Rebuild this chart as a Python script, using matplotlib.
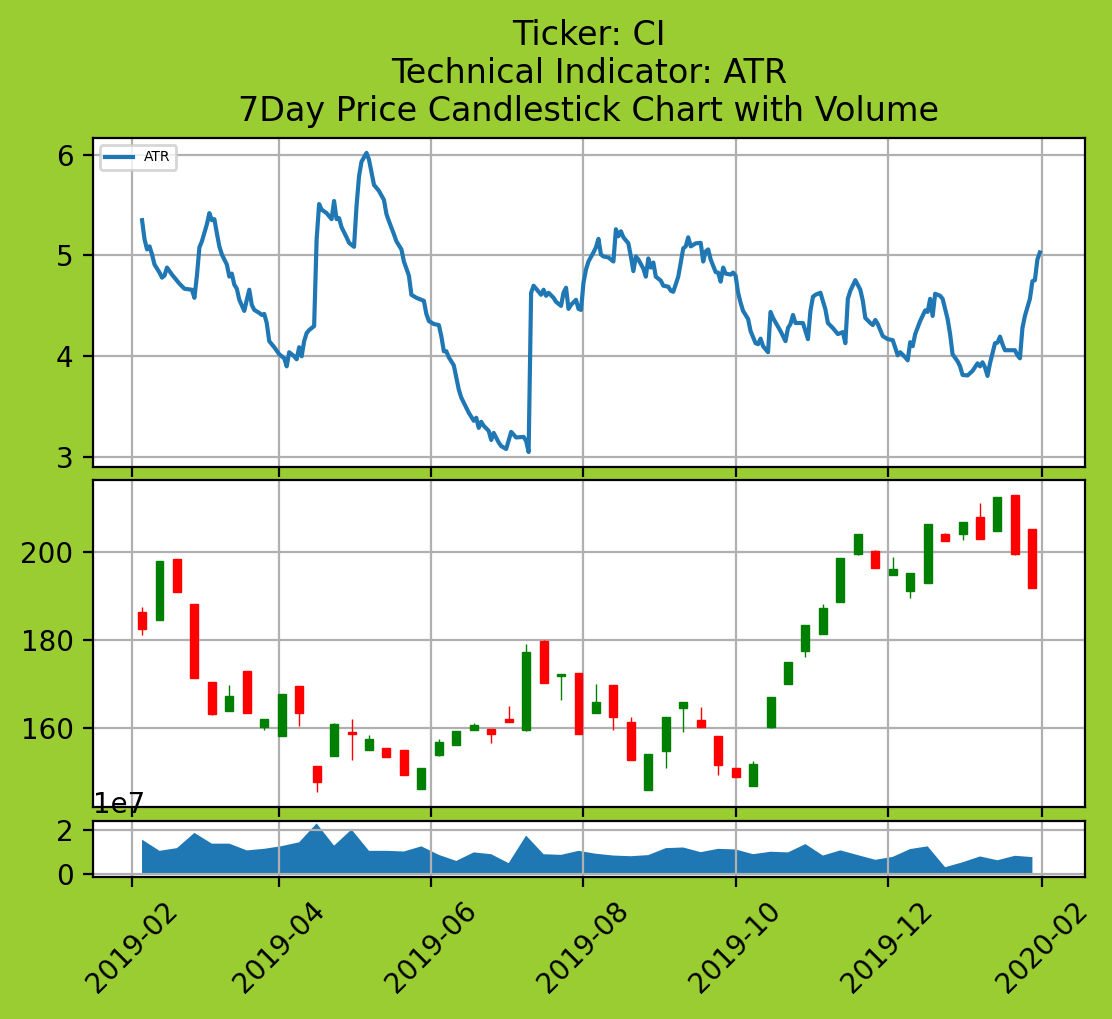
import pandas as pd
import numpy as np
import matplotlib
matplotlib.use('Agg')
import matplotlib.pyplot as plt
import matplotlib.dates as mdates


# ── Data ────────────────────────────────────────────────────────────────────

TICKER = 'CI'
INDICATOR = 'ATR'
BASE_DATE = '2019-02-01'

# ATR line: day offsets from BASE_DATE and values
atr_days = [
    4, 5, 6, 7, 8, 9, 11, 12, 13, 14, 16, 18, 19, 21, 24, 25, 26, 27, 28, 30,
    31, 32, 33, 34, 35, 36, 38, 39, 40, 41, 42, 43, 45, 46, 47, 48, 49, 51, 52, 53,
    54, 55, 57, 59, 61, 62, 63, 65, 66, 67, 68, 69, 70, 71, 73, 74, 75, 76, 78, 80,
    81, 82, 83, 84, 86, 87, 89, 90, 91, 92, 94, 95, 97, 99, 101, 102, 103, 105, 106, 108,
    109, 111, 112, 114, 117, 118, 119, 121, 123, 124, 125, 126, 127, 129, 131, 132, 133, 135, 137, 138,
    139, 140, 141, 143, 144, 145, 147, 148, 150, 152, 154, 157, 158, 159, 160, 161, 163, 164, 165, 166,
    167, 169, 170, 172, 173, 174, 175, 176, 178, 179, 180, 181, 182, 183, 185, 186, 187, 188, 189, 191,
    193, 194, 195, 196, 197, 199, 200, 201, 202, 203, 205, 206, 207, 208, 209, 210, 212, 213, 215, 216,
    217, 219, 220, 221, 222, 223, 224, 226, 228, 229, 230, 231, 232, 234, 235, 236, 237, 238, 240, 241,
    242, 243, 244, 245, 247, 248, 250, 251, 252, 253, 255, 256, 257, 260, 262, 263, 264, 265, 266, 267,
    269, 271, 272, 273, 274, 276, 278, 279, 281, 283, 285, 286, 287, 288, 290, 292, 293, 294, 296, 297,
    298, 299, 301, 303, 305, 307, 308, 310, 311, 312, 313, 314, 316, 318, 319, 320, 321, 322, 324, 325,
    327, 328, 329, 331, 332, 333, 335, 337, 339, 340, 341, 342, 343, 344, 346, 347, 348, 349, 350, 354,
    355, 356, 357, 358, 360, 361, 362, 363, 364,
]
atr_values = [
    5.35, 5.16, 5.06, 5.09, 5.01, 4.91, 4.83, 4.78, 4.80, 4.88, 4.81, 4.75, 4.72, 4.67, 4.66, 4.58, 4.80, 5.08, 5.14, 5.31,
    5.42, 5.35, 5.36, 5.22, 5.09, 5.01, 4.91, 4.79, 4.82, 4.71, 4.67, 4.56, 4.45, 4.56, 4.66, 4.51, 4.46, 4.43, 4.41, 4.42,
    4.33, 4.15, 4.09, 4.02, 3.98, 3.90, 4.04, 4.00, 3.97, 4.09, 4.00, 4.15, 4.23, 4.26, 4.30, 5.16, 5.51, 5.455, 5.42, 5.36,
    5.54, 5.36, 5.37, 5.28, 5.18, 5.125, 5.086, 5.49, 5.785, 5.93, 6.017, 5.95, 5.70, 5.64, 5.55, 5.41, 5.34, 5.21, 5.14, 5.06,
    4.94, 4.80, 4.61, 4.58, 4.55, 4.42, 4.35, 4.32, 4.31, 4.20, 4.05, 4.05, 3.99, 3.91, 3.67, 3.59, 3.54, 3.44, 3.36, 3.39,
    3.29, 3.35, 3.31, 3.26, 3.17, 3.24, 3.145, 3.11, 3.08, 3.25, 3.195, 3.20, 3.16, 3.05, 4.63, 4.70, 4.64, 4.61, 4.66, 4.60,
    4.63, 4.58, 4.54, 4.50, 4.63, 4.68, 4.47, 4.51, 4.56, 4.47, 4.46, 4.73, 4.86, 4.94, 5.03, 5.08, 5.165, 5.01, 4.99, 4.98,
    4.94, 5.26, 5.19, 5.24, 5.18, 5.12, 4.99, 4.845, 4.99, 4.96, 4.87, 4.79, 4.97, 4.88, 4.93, 4.79, 4.75, 4.70, 4.69, 4.65,
    4.64, 4.79, 4.93, 5.07, 5.09, 5.18, 5.09, 5.12, 5.125, 4.94, 5.04, 5.06, 4.96, 4.835, 4.83, 4.74, 4.88, 4.82, 4.81, 4.83,
    4.80, 4.63, 4.53, 4.45, 4.37, 4.25, 4.13, 4.12, 4.175, 4.10, 4.04, 4.44, 4.38, 4.25, 4.15, 4.28, 4.32, 4.41, 4.33, 4.33,
    4.33, 4.17, 4.45, 4.59, 4.61, 4.63, 4.465, 4.33, 4.28, 4.22, 4.24, 4.13, 4.57, 4.65, 4.755, 4.66, 4.55, 4.38, 4.33, 4.31,
    4.36, 4.32, 4.20, 4.17, 4.16, 4.01, 4.04, 3.99, 3.96, 4.14, 4.10, 4.22, 4.35, 4.455, 4.44, 4.57, 4.40, 4.62, 4.60, 4.57,
    4.37, 4.22, 4.02, 3.95, 3.90, 3.815, 3.81, 3.855, 3.93, 3.90, 3.94, 3.89, 3.805, 3.93, 4.13, 4.135, 4.195, 4.12, 4.06, 4.06,
    4.01, 3.98, 4.28, 4.40, 4.57, 4.745, 4.755, 4.96, 5.03,
]

# weekly candles
candle_start = '2019-02-05'
opens = [
    186.4, 184.5, 198.35, 188.2, 170.3, 163.8, 173.0, 160.2, 158.2, 169.4,
    151.2, 153.5, 159.0, 154.9, 155.4, 154.8, 146.1, 153.7, 156.0, 159.4,
    159.7, 161.9, 159.4, 179.8, 171.8, 172.5, 163.4, 169.6, 161.3, 145.8,
    154.6, 164.5, 161.7, 158.1, 150.7, 146.7, 160.15, 169.9, 177.5, 181.3,
    188.5, 199.55, 200.3, 194.8, 191.2, 193.0, 204.2, 204.0, 208.0, 204.7,
    213.0, 205.3,
]
highs = [
    187.4, 198.0, 198.4, 188.2, 170.3, 169.7, 173.0, 161.9, 167.6, 169.4,
    151.2, 161.0, 161.9, 158.4, 155.4, 154.8, 150.7, 157.5, 159.25, 161.0,
    159.7, 164.9, 179.0, 179.9, 172.3, 172.5, 169.9, 169.6, 162.5, 154.1,
    162.4, 165.8, 164.7, 158.1, 150.7, 152.4, 166.9, 175.0, 183.3, 188.1,
    198.6, 204.0, 200.4, 198.9, 195.2, 206.4, 204.3, 206.9, 211.2, 212.5,
    213.0, 205.3,
]
lows = [
    181.0, 184.4, 191.0, 171.2, 162.8, 163.8, 163.4, 159.55, 158.2, 160.4,
    145.3, 153.5, 152.7, 154.9, 153.3, 149.1, 146.1, 153.5, 156.0, 159.4,
    156.6, 161.3, 159.3, 170.2, 166.3, 158.65, 163.4, 159.5, 152.6, 145.8,
    150.7, 158.9, 160.2, 149.1, 148.8, 146.7, 160.0, 169.9, 176.0, 181.3,
    188.5, 199.3, 196.4, 194.8, 189.5, 193.0, 202.5, 202.8, 202.9, 204.7,
    199.3, 191.7,
]
closes = [
    182.5, 197.9, 191.0, 171.2, 163.1, 167.3, 163.4, 161.9, 167.6, 163.4,
    147.6, 160.8, 158.5, 157.5, 153.3, 149.1, 150.7, 156.8, 159.25, 160.5,
    158.5, 161.3, 177.2, 170.2, 172.3, 158.65, 165.8, 162.5, 152.6, 154.1,
    162.4, 165.8, 160.2, 151.5, 148.8, 151.8, 166.9, 175.0, 183.3, 187.3,
    198.6, 204.0, 196.4, 196.1, 195.2, 206.4, 202.5, 206.9, 202.9, 212.5,
    199.55, 191.7,
]
# weekly volume, in units of 1e7
volume_1e7 = [
    1.55, 1.05, 1.17, 1.85, 1.37, 1.37, 1.07, 1.14, 1.26, 1.43,
    2.27, 1.28, 2.00, 1.05, 1.05, 1.02, 1.25, 0.87, 0.60, 0.98,
    0.90, 0.50, 1.73, 0.90, 0.87, 1.05, 0.92, 0.84, 0.81, 0.86,
    1.17, 1.20, 0.99, 1.14, 1.11, 0.90, 1.01, 0.98, 1.35, 0.84,
    1.07, 0.86, 0.65, 0.78, 1.13, 1.25, 0.32, 0.54, 0.80, 0.63,
    0.83, 0.77,
]


# ── Build series ────────────────────────────────────────────────────────────

atr_dates = pd.Timestamp(BASE_DATE) + pd.to_timedelta(atr_days, unit='D')
candle_dates = pd.date_range(candle_start, periods=len(opens), freq='7D')
volume = np.array(volume_1e7) * 1e7

opens = np.array(opens)
closes = np.array(closes)
colors = np.where(closes >= opens, 'g', 'r')


# ── Plot ────────────────────────────────────────────────────────────────────

fig = plt.figure(figsize=(5.56, 5.095), dpi=200, facecolor='yellowgreen')
ax1 = fig.add_axes([0.0836, 0.5417, 0.8921, 0.3229])
ax2 = fig.add_axes([0.0836, 0.2080, 0.8921, 0.3209], sharex=ax1)
ax3 = fig.add_axes([0.0836, 0.1394, 0.8921, 0.0550], sharex=ax1)

ax1.plot(atr_dates, atr_values, label=INDICATOR)
ax1.legend(loc='upper left', fontsize=5)
ax1.set_title(f'Ticker: {TICKER}\nTechnical Indicator: {INDICATOR}\n'
              '7Day Price Candlestick Chart with Volume')
ax1.grid(True)

ax2.vlines(candle_dates, lows, highs, colors=colors, linewidth=0.5, zorder=2)
ax2.bar(candle_dates, np.abs(closes - opens), bottom=np.minimum(opens, closes),
        width=3.2, color=colors, edgecolor=colors, linewidth=0.5, zorder=3)
ax2.grid(True)

ax3.fill_between(candle_dates, volume, 0)
ax3.grid(True)

ax3.xaxis.set_major_locator(mdates.MonthLocator(bymonth=[2, 4, 6, 8, 10, 12]))
ax3.xaxis.set_major_formatter(mdates.DateFormatter('%Y-%m'))

plt.setp(ax1.get_xticklabels(), visible=False)
plt.setp(ax2.get_xticklabels(), visible=False)
plt.setp(ax3.get_xticklabels(), rotation=45)

fig.savefig('out.png', dpi=200, facecolor=fig.get_facecolor())
plt.close(fig)
